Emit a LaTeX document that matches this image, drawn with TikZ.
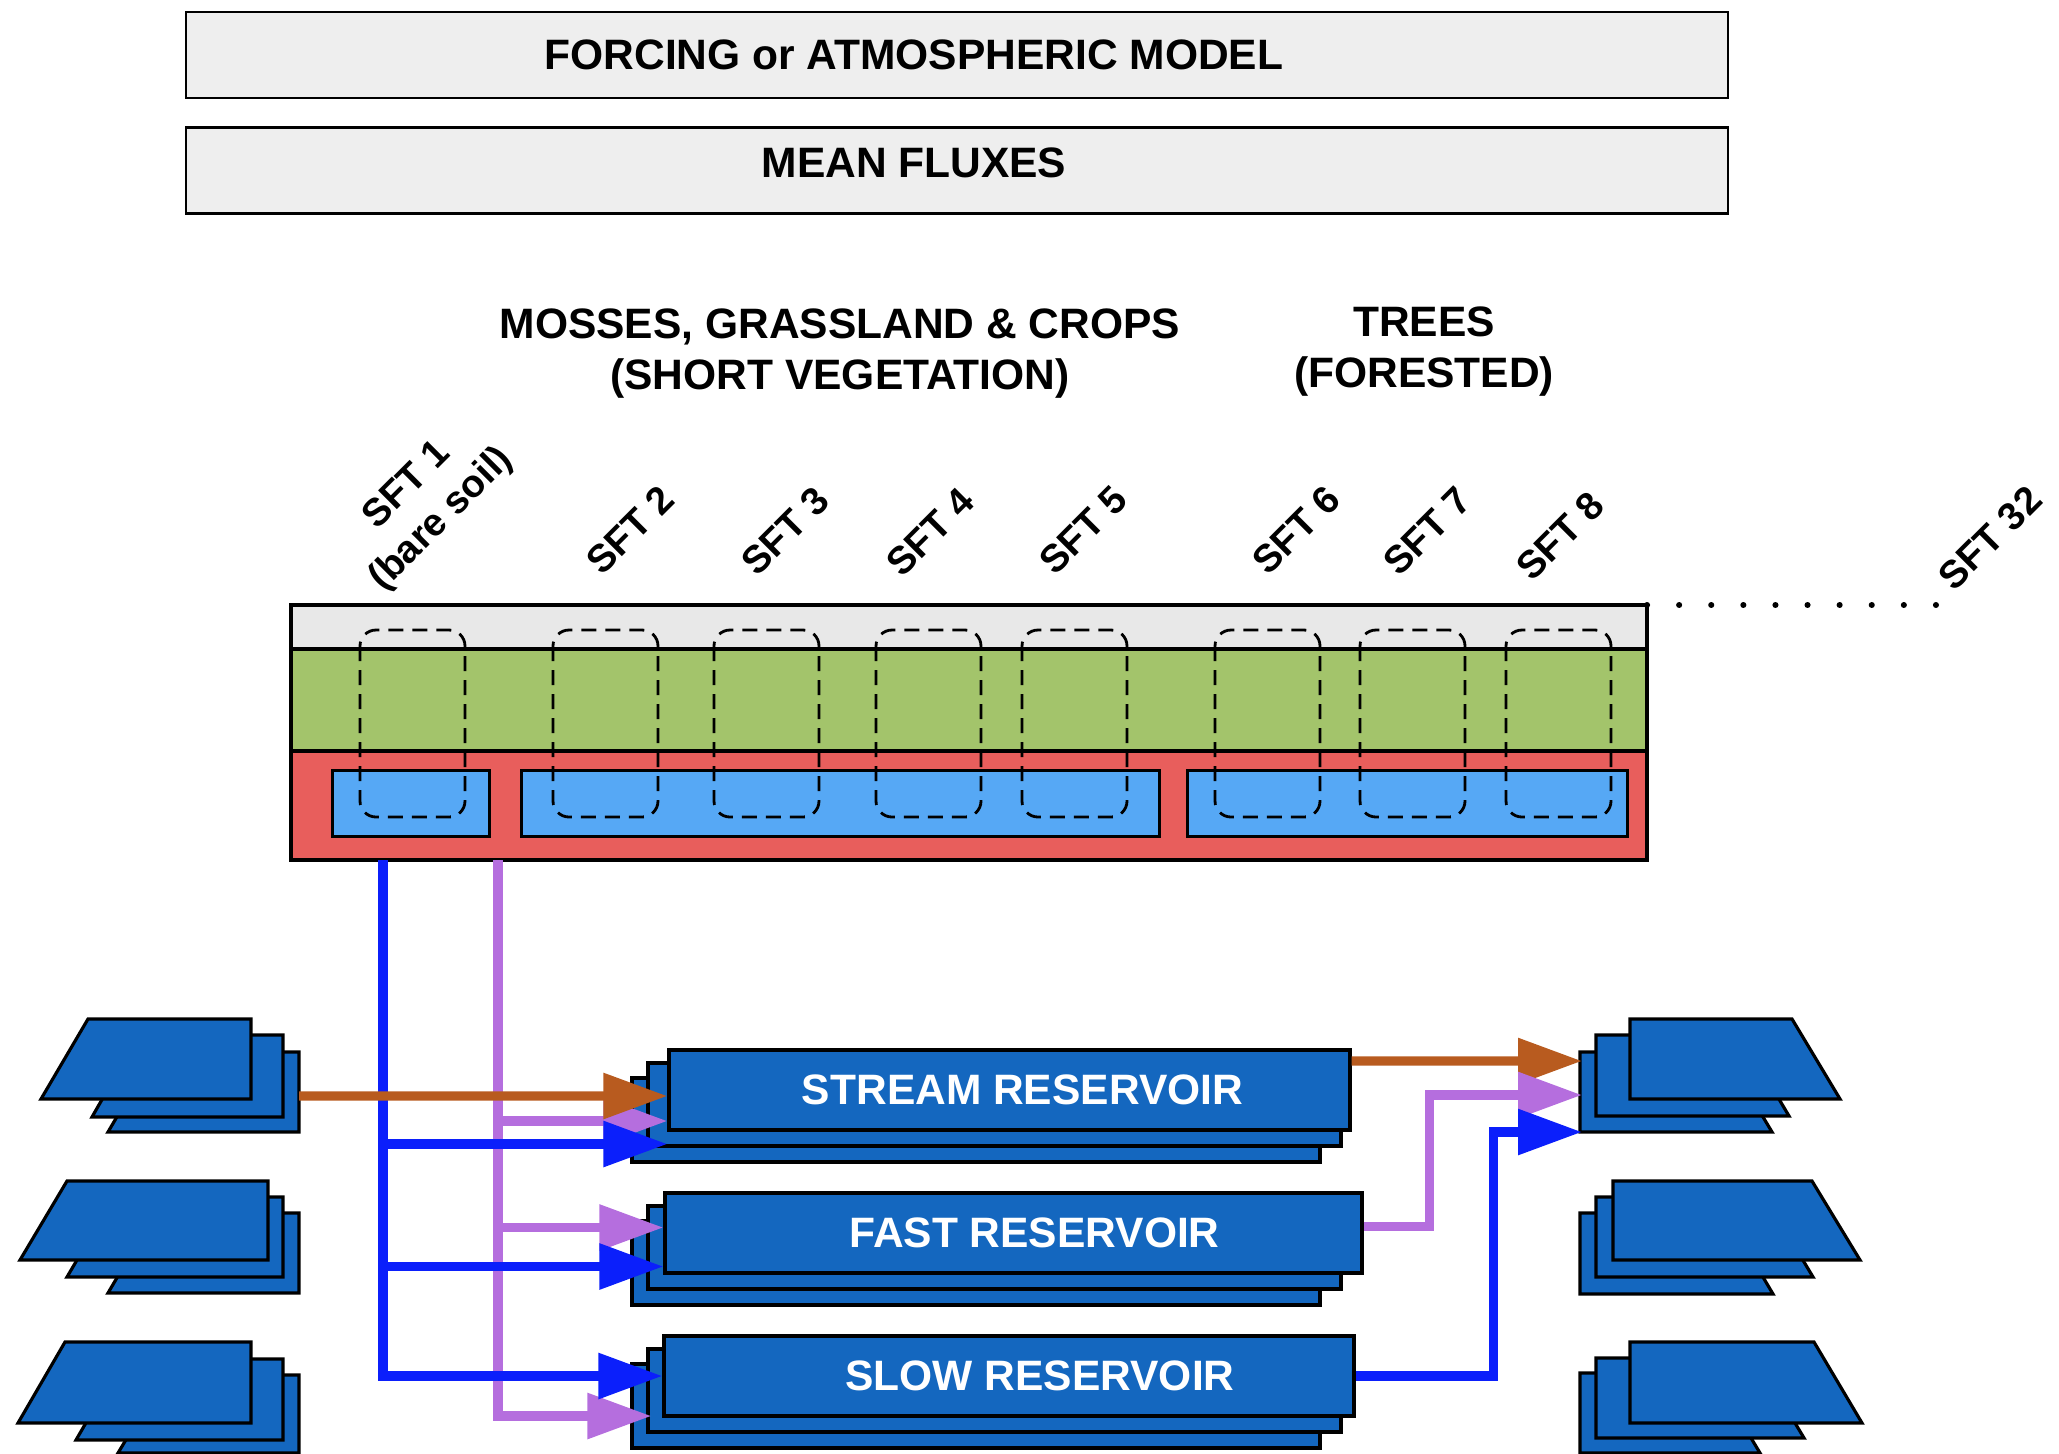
\documentclass[tikz,border=0pt]{standalone}
\usepackage{fontspec}
\setmainfont{Liberation Sans}
\usepackage{tikz}
\usetikzlibrary{arrows.meta,positioning,calc}
\definecolor{bannergrey}{HTML}{EEEEEE}
\definecolor{canopygrey}{HTML}{E8E8E8}
\definecolor{vegegreen}{HTML}{A3C46B}
\definecolor{soilred}{HTML}{E85E5C}
\definecolor{poolblue}{HTML}{56A8F5}
\definecolor{resblue}{HTML}{1467BF}
\definecolor{runoffbrown}{HTML}{B85B1F}
\definecolor{drainlilac}{HTML}{B56EDE}
\definecolor{baseblue}{HTML}{0B1FFB}
% slanted slabs: bottom-left x, right x / left x, bottom-right x, top y, bottom y
\newcommand{\lslab}[4]{\draw[slab] ({#1+47},#3) -- (#2,#3) -- (#2,#4) -- (#1,#4) -- cycle;}
\newcommand{\rslab}[4]{\draw[slab] (#1,#3) -- ({#2-48},#3) -- (#2,#4) -- (#1,#4) -- cycle;}

\begin{document}
\begin{tikzpicture}[x=0.1mm,y=-0.1mm,
  every node/.style={font=\bfseries\fontsize{12.1}{14.5}\selectfont,inner sep=0pt,align=center},
  banner/.style={draw=black,fill=bannergrey,line width=0.8pt,minimum width=154.2mm,minimum height=8.6mm},
  soillayer/.style={draw=black,line width=0.9pt,minimum width=135.6mm,anchor=north west,outer sep=0pt},
  pool/.style={draw=black,fill=poolblue,line width=0.9pt,minimum height=6.6mm,anchor=north west},
  column/.style={draw=black,line width=0.8pt,dash pattern=on 1.5mm off 0.9mm,rounded corners=1.6mm},
  dotrow/.style={draw=black,line width=0.6mm,line cap=round,dash pattern=on 0.01mm off 3.2mm},
  sft/.style={rotate=45,font=\bfseries\fontsize{11}{13.5}\selectfont},
  slab/.style={draw=black,fill=resblue,line width=0.9pt},
  reservoir/.style={slab,minimum height=8mm},
  restext/.style={text=white},
  flow/.style={-{Triangle[length=6.4mm,width=4.4mm]},line width=2.6pt},
  runoffflow/.style={flow,draw=runoffbrown},
  drainflow/.style={flow,draw=drainlilac},
  baseflow/.style={flow,draw=baseblue}
]
  \useasboundingbox (0,0) rectangle (2059,1453);
  \node[banner,label={[xshift=-4.3mm]center:FORCING or ATMOSPHERIC MODEL}] (forcing) at (957,55) {};
  \node[banner,below=2.7mm of forcing,label={[xshift=-4.3mm,yshift=0.8mm]center:MEAN FLUXES}] (fluxes) {};
  \node (shortveg) at (840,354) {MOSSES, GRASSLAND \& CROPS\\(SHORT VEGETATION)};
  \node (trees) at (1424,352) {TREES\\(FORESTED)};
  % tile
  \node[soillayer,fill=canopygrey,minimum height=4.4mm] (canopy) at (291,605) {};
  \node[soillayer,fill=vegegreen,minimum height=10.2mm,below=0pt of canopy] (veg) {};
  \node[soillayer,fill=soilred,minimum height=10.9mm,below=0pt of veg] (soil) {};
  \node[pool,minimum width=15.7mm] (bare) at (331,769) {};
  \node[pool,minimum width=63.8mm] (short) at (520,769) {};
  \node[pool,minimum width=44mm] (tall) at (1186,769) {};
  \foreach \x in {360,553,714,876,1022,1215,1360,1506}
    \draw[column] (\x,630) rectangle ++(105,187);
  \draw[dotrow] (canopy.north east) -- ++(293,0);
  \node[sft] (sft1) at (425,503) {SFT 1\\(bare soil)};
  \foreach \n/\x/\y in {2/630/530,3/785/531,4/930/532,5/1083/530,6/1296/530,7/1427/531,8/1560/536,32/1990/538}
    \node[sft] (sft\n) at (\x,\y) {SFT \n};
  % reservoirs
  \foreach \yt in {1050,1193,1336}{
    \draw[slab] (632,{\yt+28}) rectangle (1320,{\yt+112});
    \draw[slab] (648,{\yt+13}) rectangle (1341,{\yt+96});
  }
  \node[reservoir,minimum width=68.1mm,label={[restext,xshift=1.3mm]center:STREAM RESERVOIR}] (stream) at (1009.5,1090) {};
  \node[reservoir,minimum width=69.7mm,label={[restext,xshift=2.1mm]center:FAST RESERVOIR}] (fast) at (1013.5,1233) {};
  \node[reservoir,minimum width=69mm,label={[restext,xshift=3.1mm]center:SLOW RESERVOIR}] (slow) at (1009,1376) {};
  % neighbouring cells
  \lslab{108}{299}{1052}{1132} \lslab{92}{283}{1035}{1117} \lslab{41}{251}{1019}{1099}
  \lslab{108}{299}{1213}{1293} \lslab{67}{283}{1197}{1277} \lslab{20}{268}{1181}{1260}
  \lslab{118}{299}{1375}{1453} \lslab{76}{283}{1359}{1440} \lslab{18}{251}{1342}{1423}
  \rslab{1580}{1772}{1052}{1132} \rslab{1596}{1789}{1035}{1116} \rslab{1630}{1840}{1019}{1099}
  \rslab{1580}{1773}{1213}{1294} \rslab{1596}{1813}{1197}{1277} \rslab{1613}{1860}{1181}{1260}
  \rslab{1580}{1760}{1373}{1453} \rslab{1596}{1804}{1358}{1438} \rslab{1630}{1862}{1342}{1423}
  % fluxes
  \coordinate (drip) at (383,860);
  \coordinate (seep) at (498,860);
  \coordinate (inflow) at (299,1096);
  \coordinate (outlet) at (1582,1095);
  \draw[drainflow] (seep) |- ([yshift=-3.1mm]stream.west);
  \draw[drainflow] (seep) |- ([yshift=0.55mm]fast.west);
  \draw[drainflow] (seep) |- ([xshift=-1.1mm,yshift=-4mm]slow.west);
  \draw[baseflow] (drip) |- ([yshift=-5.4mm]stream.west);
  \draw[baseflow] (drip) |- ([yshift=-3.35mm]fast.west);
  \draw[baseflow] (drip) |- (slow.west);
  \draw[runoffflow] (inflow) -- ([yshift=-0.6mm]stream.west);
  \draw[runoffflow] ([yshift=2.9mm]stream.east) -- ([yshift=3.4mm]outlet);
  \draw[drainflow] ([yshift=0.65mm]fast.east) -- ++(66,0) |- (outlet);
  \draw[baseflow] (slow.east) -- ++(138,0) |- ([yshift=-3.7mm]outlet);
\end{tikzpicture}
\end{document}
